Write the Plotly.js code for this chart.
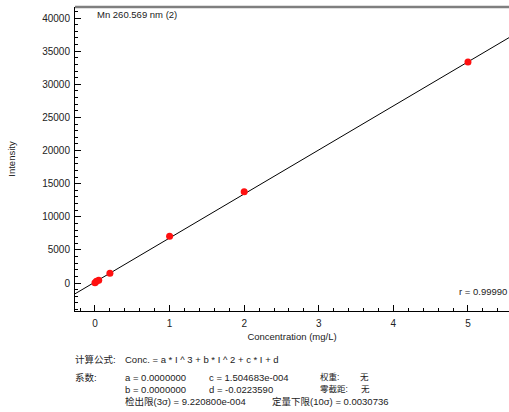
<!DOCTYPE html>
<html>
<head>
<meta charset="utf-8">
<script src="https://cdn.plot.ly/plotly-3.0.1.min.js"></script>
<style>
html,body{margin:0;padding:0;background:#fff;}
#chart{width:509px;height:412px;}
</style>
</head>
<body>
<div id="chart"></div>
<script>
// ---- data ----
var concentration = [0, 0.02, 0.05, 0.2, 1, 2, 5];
var intensity = [50, 250, 420, 1460, 7050, 13780, 33360];
var coefA = 0.0, coefB = 0.0, coefC = 1.504683e-4, coefD = -0.0223590;
var xTickVals = [0, 1, 2, 3, 4, 5];
var yTickVals = [0, 5000, 10000, 15000, 20000, 25000, 30000, 35000, 40000];
var xRange = [-0.268, 5.55];
var yRange = [-4226, 41660];
var seriesTitle = "Mn 260.569 nm (2)";
var rText = "r = 0.99990";

// fitted line: Conc = c*I + d  ->  I = (Conc - d)/c
var lineX = [xRange[0], xRange[1]];
var lineY = lineX.map(function (x) { return (x - coefD) / coefC; });

var FONT = "Liberation Sans, Arial, Noto Sans CJK SC, sans-serif";
var TXT = "#222";

var L = 75, T = 7, R = 0, B = 101, W = 509, H = 412;
var pw = W - L - R, ph = H - T - B;
function px(x) { return (x - L) / pw; }
function py(y) { return (H - B - y) / ph; }

function note(text, x, y, opts) {
  opts = opts || {};
  return {
    text: text, xref: 'paper', yref: 'paper', x: px(x), y: py(y),
    xanchor: opts.xanchor || 'left', yanchor: 'middle', showarrow: false,
    align: 'left',
    font: {family: FONT, size: opts.size || 9.5, color: TXT}
  };
}

var traces = [
  {x: lineX, y: lineY, mode: 'lines', line: {color: '#000', width: 1}, hoverinfo: 'skip'},
  {x: concentration, y: intensity, mode: 'markers',
   marker: {color: '#ff1010', size: 7, line: {width: 0}}}
];

var layout = {
  width: W, height: H,
  margin: {l: L, r: R, t: T, b: B, pad: 0},
  paper_bgcolor: '#fff', plot_bgcolor: '#fff',
  showlegend: false,
  font: {family: FONT, size: 10, color: TXT},
  xaxis: {
    range: xRange, tickvals: xTickVals, ticktext: xTickVals.map(String),
    showgrid: false, zeroline: false, showline: true, linecolor: '#000', linewidth: 1,
    ticks: 'inside', ticklen: 6, tickcolor: '#000', tickwidth: 1,
    minor: {dtick: 0.2, tick0: 0, ticks: 'inside', ticklen: 3, tickcolor: '#000', tickwidth: 1, showgrid: false},
    tickfont: {family: FONT, size: 10, color: TXT},
    ticklabelstandoff: 3,
    title: {text: 'Concentration (mg/L)', font: {family: FONT, size: 9.5, color: TXT}, standoff: 5},
    fixedrange: true
  },
  yaxis: {
    range: yRange, tickvals: yTickVals, ticktext: yTickVals.map(String),
    showgrid: false, zeroline: false, showline: true, linecolor: '#000', linewidth: 1,
    ticks: 'inside', ticklen: 6, tickcolor: '#000', tickwidth: 1,
    minor: {dtick: 1000, tick0: 0, ticks: 'inside', ticklen: 3, tickcolor: '#000', tickwidth: 1, showgrid: false},
    tickfont: {family: FONT, size: 10, color: TXT},
    ticklabelstandoff: 2,
    title: {text: 'Intensity', font: {family: FONT, size: 9.5, color: TXT}, standoff: 24},
    fixedrange: true
  },
  shapes: [
    {type: 'line', xref: 'paper', yref: 'paper', x0: 0, x1: 1, y0: 1, y1: 1,
     line: {color: '#7f7f7f', width: 2.5}}
  ],
  annotations: [
    note(seriesTitle, 95, 15),
    note(rText, 509, 291, {xanchor: 'right'}),
    note('计算公式:', 73, 359),
    note('Conc. = a * I ^ 3 + b * I ^ 2 + c * I + d', 123, 359),
    note('系数:', 73, 377),
    note('a = ' + coefA.toFixed(7), 123, 377),
    note('b = ' + coefB.toFixed(7), 123, 389),
    note('c = 1.504683e-004', 207, 377),
    note('d = ' + coefD.toFixed(7), 207, 389),
    note('权重:', 318, 376.5, {size: 8.5}),
    note('零截距:', 318, 389, {size: 8.5}),
    note('无', 358, 376.5, {size: 8.5}),
    note('无', 359, 389, {size: 8.5}),
    note('检出限(3σ) = 9.220800e-004', 123, 401),
    note('定量下限(10σ) = 0.0030736', 270, 401)
  ]
};

Plotly.newPlot('chart', traces, layout, {displayModeBar: false, staticPlot: true});
</script>
</body>
</html>
